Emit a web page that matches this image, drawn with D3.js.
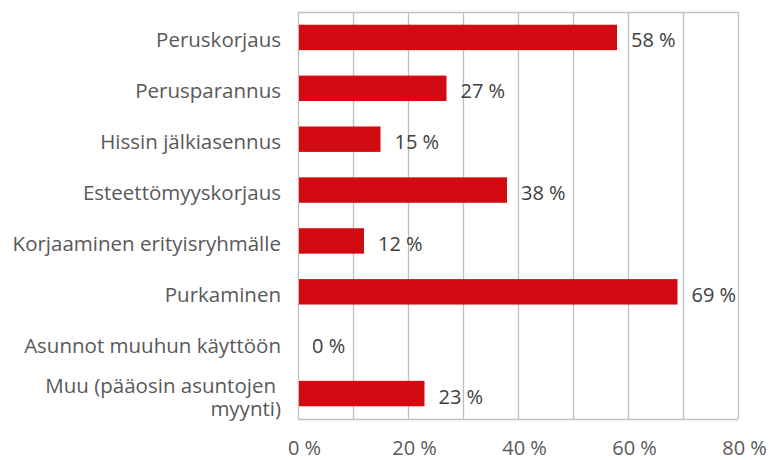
<!DOCTYPE html>
<html>
<head>
<meta charset="utf-8">
<script src="https://cdn.jsdelivr.net/npm/d3@7"></script>
<style>
  body { margin: 0; background: #fff; }
  text { font-family: "Open Sans", sans-serif; }
</style>
</head>
<body>
<svg id="chart" width="769" height="460"></svg>
<script>
var categories = [
  "Peruskorjaus",
  "Perusparannus",
  "Hissin jälkiasennus",
  "Esteettömyyskorjaus",
  "Korjaaminen erityisryhmälle",
  "Purkaminen",
  "Asunnot muuhun käyttöön",
  ["Muu (pääosin asuntojen ", "myynti)"]
];
var values = [58, 27, 15, 38, 12, 69, 0, 23];
var tickValues = [0, 20, 40, 60, 80];

var fontSize = 20;
var margin = {left: 298, top: 12, right: 31, bottom: 41};
var width = 769 - margin.left - margin.right;
var height = 460 - margin.top - margin.bottom;

var svg = d3.select("#chart");
var g = svg.append("g").attr("transform", "translate(" + margin.left + "," + margin.top + ")");

var x = d3.scaleLinear().domain([0, 80]).range([0, width]);
var y = d3.scaleBand().domain(d3.range(categories.length)).range([0, height]).paddingInner(0.5).paddingOuter(0.25);

// grid every 10 %
g.append("g")
  .selectAll("line")
  .data(x.ticks(8))
  .enter().append("line")
  .attr("x1", function(d){ return x(d) + 0.5; })
  .attr("x2", function(d){ return x(d) + 0.5; })
  .attr("y1", 0)
  .attr("y2", height)
  .attr("stroke", "#bfbfbf")
  .attr("stroke-width", 1.3);

g.append("line")
  .attr("x1", 0).attr("x2", width)
  .attr("y1", 0.5).attr("y2", 0.5)
  .attr("stroke", "#bfbfbf").attr("stroke-width", 1.3);
g.append("line")
  .attr("x1", 0).attr("x2", width)
  .attr("y1", height + 0.5).attr("y2", height + 0.5)
  .attr("stroke", "#bfbfbf").attr("stroke-width", 1.3);

// bars
g.selectAll("rect.bar")
  .data(values)
  .enter().append("rect")
  .attr("class", "bar")
  .attr("x", x(0) + 1)
  .attr("y", function(d, i){ return y(i); })
  .attr("width", function(d){ return Math.max(0, x(d) - 1); })
  .attr("height", y.bandwidth())
  .attr("fill", "#d20a11");

// value labels
g.selectAll("text.val")
  .data(values)
  .enter().append("text")
  .attr("class", "val")
  .attr("x", function(d){ return x(d) + 14; })
  .attr("y", function(d, i){ return y(i) + y.bandwidth() / 2 + 10; })
  .attr("font-size", fontSize)
  .attr("fill", "#404040")
  .text(function(d){ return d + "\u00a0%"; });

// category labels
var cat = g.selectAll("text.cat")
  .data(categories)
  .enter().append("text")
  .attr("class", "cat")
  .attr("text-anchor", "end")
  .attr("font-size", fontSize + 0.5)
  .attr("fill", "#595959")
  .attr("y", function(d, i){ return y(i) + y.bandwidth() / 2 + 10; });

cat.each(function(d, i){
  var t = d3.select(this);
  if (Array.isArray(d)) {
    var cy = y(i) + y.bandwidth() / 2;
    t.append("tspan").attr("x", -22).attr("y", cy - 1).text(d[0].trim());
    t.append("tspan").attr("x", -17).attr("y", cy + 22).text(d[1]);
  } else {
    t.attr("x", -17).text(d);
  }
});

// x tick labels
var xAxis = d3.axisBottom(x).tickValues(tickValues).tickSize(0).tickPadding(0)
  .tickFormat(function(d){ return d + "\u00a0%"; });
var ax = g.append("g").attr("transform", "translate(0," + height + ")").call(xAxis);
ax.select(".domain").remove();
ax.selectAll("text")
  .attr("font-size", fontSize)
  .attr("font-family", "'Open Sans', sans-serif")
  .attr("fill", "#595959")
  .attr("dy", null)
  .attr("y", 36)
  .attr("x", 6);
</script>
</body>
</html>
